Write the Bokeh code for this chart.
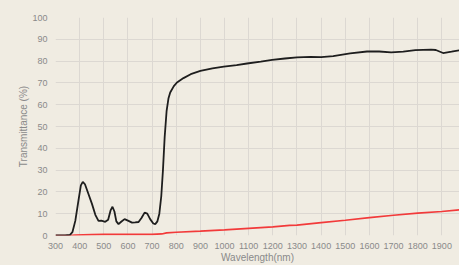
from bokeh.plotting import figure
from bokeh.embed import file_html
from bokeh.resources import INLINE
from bokeh.models import FixedTicker, Range1d

# Black curve (sample)
wl_black = [300, 340, 360, 370, 382, 395, 405, 413, 422, 435, 451, 465, 478, 490, 506, 518, 528, 536, 544, 552, 561, 572, 586, 600, 617, 630, 644, 656, 669, 680, 692, 705, 713, 722, 730, 738, 745, 752, 760, 768, 775, 790, 803, 830, 860, 900, 950, 997, 1050, 1093, 1150, 1197, 1250, 1300, 1356, 1400, 1450, 1520, 1590, 1640, 1690, 1740, 1790, 1855, 1875, 1905, 1940, 1975]
tr_black = [0, 0, 0.3, 1.5, 6.7, 16, 23, 24.6, 23.5, 19.5, 14.5, 9.5, 6.7, 6.8, 6.3, 7.2, 11.5, 13.2, 11, 6.5, 5.2, 6.3, 7.5, 6.8, 5.9, 6, 6.2, 8, 10.5, 10, 7.5, 5.5, 5.2, 6.5, 10, 18, 30, 45, 57, 63, 65.6, 68.5, 70.2, 72.2, 74, 75.5, 76.7, 77.5, 78.2, 78.9, 79.8, 80.6, 81.2, 81.7, 81.9, 81.8, 82.3, 83.5, 84.4, 84.4, 84, 84.3, 85, 85.3, 85.1, 83.7, 84.3, 85]

# Red curve (reference)
wl_red = [300, 360, 380, 450, 500, 600, 700, 740, 760, 800, 900, 1000, 1100, 1200, 1270, 1300, 1400, 1500, 1600, 1700, 1800, 1900, 1975]
tr_red = [0, 0, 0.2, 0.4, 0.5, 0.5, 0.5, 0.7, 1.2, 1.5, 2.0, 2.6, 3.3, 4.0, 4.6, 4.8, 5.9, 7.0, 8.2, 9.3, 10.3, 11.0, 11.8]

x_ticks = list(range(300, 2100, 100))
y_ticks = list(range(0, 110, 10))

BG = "#f0ece2"
TXT = "#8a8a8a"

p = figure(width=459, height=265, output_backend="svg", toolbar_location=None,
           x_range=Range1d(300, 1973), y_range=Range1d(0, 100),
           background_fill_color=BG, border_fill_color=BG,
           min_border_left=55, min_border_right=0, min_border_top=17, min_border_bottom=26)
p.outline_line_color = None

p.line(wl_red, tr_red, line_color="#f23a3a", line_width=1.7)
p.line(wl_black, tr_black, line_color="#1e1e1e", line_width=1.8)

p.xaxis.ticker = FixedTicker(ticks=x_ticks)
p.yaxis.ticker = FixedTicker(ticks=y_ticks)
for ax in (p.xaxis[0], p.yaxis[0]):
    ax.axis_line_color = None
    ax.major_tick_line_color = None
    ax.minor_tick_line_color = None
    ax.major_label_text_color = TXT
    ax.major_label_text_font = "Liberation Sans"
    ax.major_label_text_font_size = "9px"
    ax.axis_label_text_color = TXT
    ax.axis_label_text_font = "Liberation Sans"
    ax.axis_label_text_font_size = "10px"
    ax.axis_label_text_font_style = "normal"
p.xaxis.major_label_standoff = 1
p.xaxis.axis_label_standoff = 0
p.yaxis.major_label_standoff = 2
p.yaxis.axis_label_standoff = 0
p.xaxis.axis_label = "Wavelength(nm)"
p.yaxis.axis_label = "Transmittance (%)"

p.xgrid.grid_line_color = "#dcd8d2"
p.ygrid.grid_line_color = "#dcd8d2"
p.xgrid.ticker = FixedTicker(ticks=x_ticks)
p.ygrid.ticker = FixedTicker(ticks=y_ticks)

html = file_html(p, INLINE)
html = html.replace("<head>", "<head><style>html,body{background:%s;margin:0;}</style>" % BG, 1)
open("out.html", "w").write(html)
